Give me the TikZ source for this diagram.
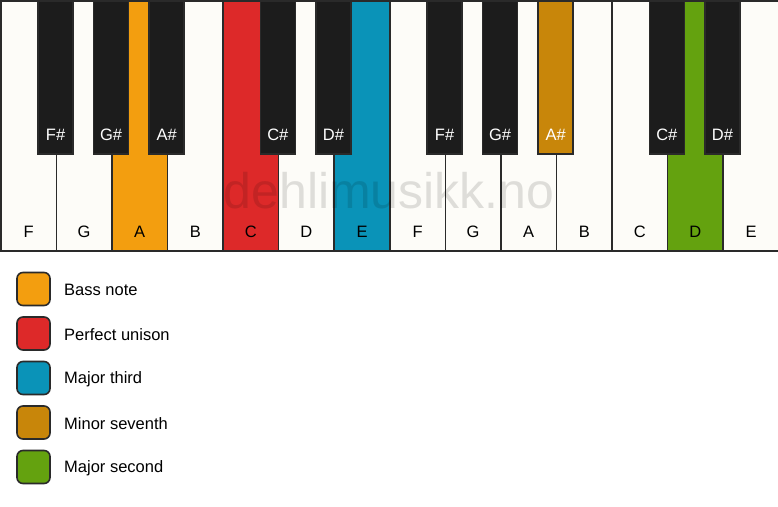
\documentclass[tikz,border=0pt]{standalone}
\usepackage{fontspec}
\setmainfont{Liberation Sans}
\definecolor{ivory}{HTML}{FDFCF8}
\definecolor{keyline}{HTML}{2A2A2A}
\definecolor{blackkey}{HTML}{1C1C1C}
\definecolor{cbass}{HTML}{F39E0F}
\definecolor{cunison}{HTML}{DD2929}
\definecolor{cthird}{HTML}{0A93B8}
\definecolor{cseventh}{HTML}{C8860A}
\definecolor{csecond}{HTML}{64A20F}
\tikzset{
  whitekey/.style={rectangle, draw=keyline, line width=1.6pt, fill=ivory, minimum width=55.57pt, minimum height=250pt, inner sep=0pt, anchor=north west},
  blackkeybox/.style={rectangle, draw=keyline, line width=1.6pt, fill=blackkey, minimum width=35pt, minimum height=153pt, inner sep=0pt, anchor=north},
  wlabel/.style={font=\fontsize{16.5}{19}\selectfont, text=black, inner sep=0pt},
  blabel/.style={font=\fontsize{16.5}{19}\selectfont, text=white, inner sep=0pt},
  legbox/.style={rectangle, rounded corners=6pt, draw=keyline, line width=1.6pt, minimum width=33pt, minimum height=33pt, inner sep=0pt},
  legtext/.style={font=\fontsize{16.5}{19}\selectfont, anchor=west, inner sep=0pt},
}
\begin{document}
\begin{tikzpicture}[x=1pt,y=-1pt]
\useasboundingbox[fill=white] (0,0) rectangle (778,506);
% white keys
\foreach \i/\n/\c in {0/F/ivory,1/G/ivory,2/A/cbass,3/B/ivory,4/C/cunison,5/D/ivory,6/E/cthird,7/F/ivory,8/G/ivory,9/A/ivory,10/B/ivory,11/C/ivory,12/D/csecond,13/E/ivory}{
  \node[whitekey, fill=\c] (w\i) at (\i*55.57,0) {};
  \node[wlabel] (wl\i) at ([yshift=20pt]w\i.south) {\n};
}
% watermark
\node[font=\fontsize{50}{56}\selectfont, text=black, text opacity=0.12, anchor=base, inner sep=0pt] (wm) at (389,208) {dehlimusikk.no};
% black keys
\foreach \i/\n/\c in {1/F\#/blackkey,2/G\#/blackkey,3/A\#/blackkey,5/C\#/blackkey,6/D\#/blackkey,8/F\#/blackkey,9/G\#/blackkey,10/A\#/cseventh,12/C\#/blackkey,13/D\#/blackkey}{
  \node[blackkeybox, fill=\c] (b\i) at (\i*55.57,0) {};
  \node[blabel] (bl\i) at ([yshift=20pt]b\i.south) {\n};
}
% legend
\foreach \k/\c/\t [count=\j from 0] in {a/cbass/Bass note,b/cunison/Perfect unison,c/cthird/Major third,d/cseventh/Minor seventh,e/csecond/Major second}{
  \node[legbox, fill=\c] (lg\k) at (33.5,289+\j*44.5) {};
  \node[legtext] (lt\k) at (64,290+\j*44.5) {\t};
}
\end{tikzpicture}
\end{document}
